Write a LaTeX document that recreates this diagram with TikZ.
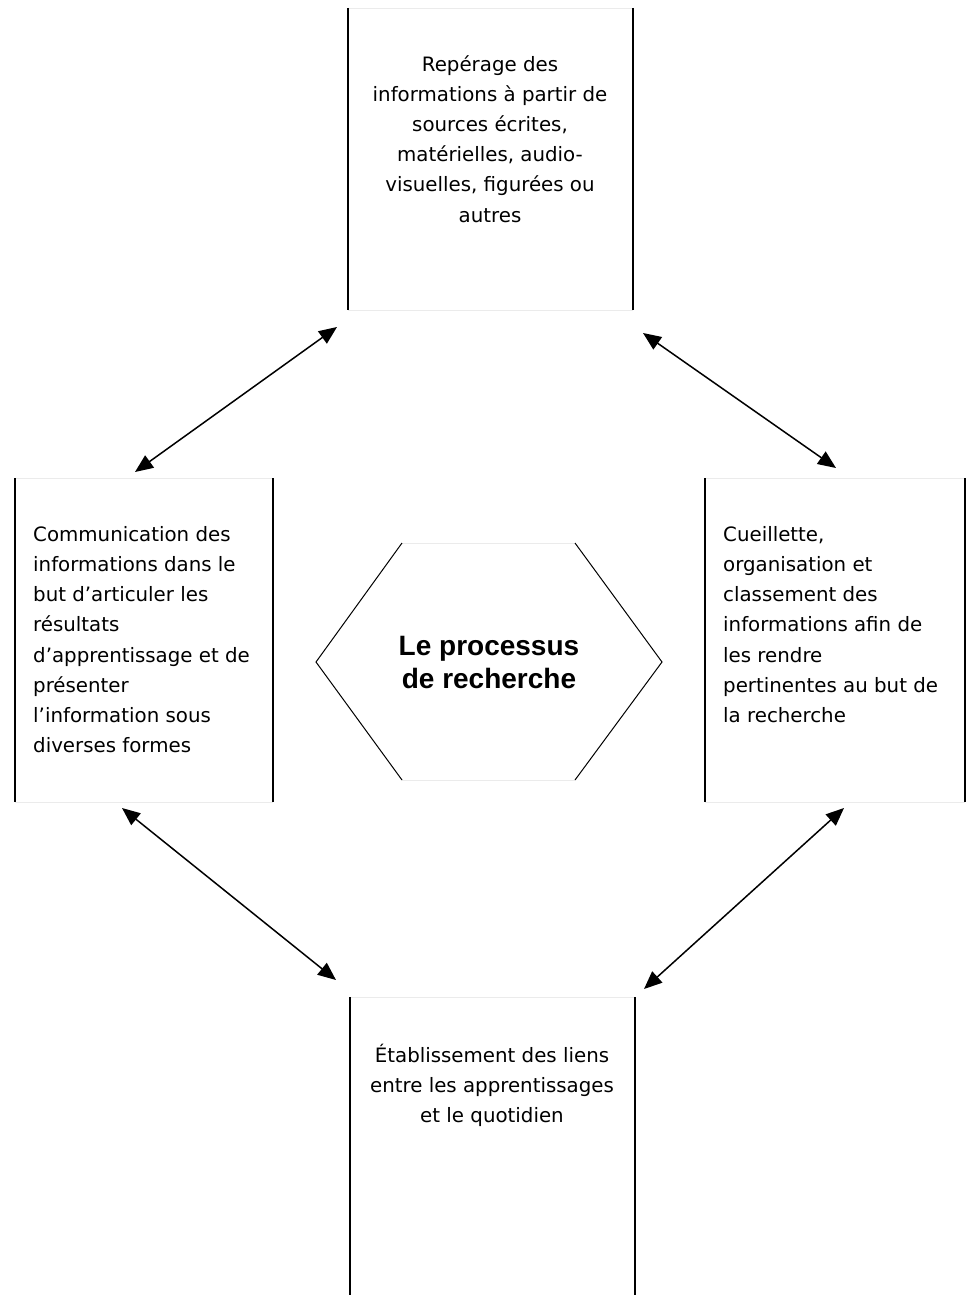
\documentclass[tikz,border=0pt]{standalone}
\usepackage{fontspec}
\setmainfont{DejaVu Sans}
\newfontfamily\titlefont{Liberation Sans}
\usetikzlibrary{arrows.meta}
\begin{document}
\begin{tikzpicture}[x=1pt,y=-1pt,
  boxtext/.style={font=\fontsize{19.8}{30.2}\selectfont, inner sep=0pt},
  side/.style={line width=2pt, black},
  faint/.style={line width=0.8pt, black!8},
  hexside/.style={line width=1pt, black},
  link/.style={line width=1.5pt, {Triangle[length=18pt,width=15pt]}-{Triangle[length=18pt,width=15pt]}}]
\useasboundingbox (0,0) rectangle (966,1295);
% boxes (frames as coordinates)
\coordinate (tA) at (348,8);   \coordinate (tB) at (633,310);
\coordinate (lA) at (15,478);  \coordinate (lB) at (273,802);
\coordinate (rA) at (705,478); \coordinate (rB) at (965,802);
\coordinate (bA) at (350,997); \coordinate (bB) at (635,1295);
\foreach \b in {t,l,r,b}{
  \draw[faint] (\b A) -- (\b A -| \b B);
  \draw[faint] (\b A |- \b B) -- (\b B);
  \draw[side] (\b A) -- (\b A |- \b B);
  \draw[side] (\b A -| \b B) -- (\b B);
}
% texts
\node[boxtext, align=center, anchor=north] (top) at (490,55)
  {Repérage des\\informations à partir de\\sources écrites,\\matérielles, audio-\\visuelles, figurées ou\\autres};
\node[boxtext, align=left, anchor=north west] (left) at (33,526)
  {Communication des\\informations dans le\\but d’articuler les\\résultats\\d’apprentissage et de\\présenter\\l’information sous\\diverses formes};
\node[boxtext, align=left, anchor=north west] (right) at (723,526)
  {Cueillette,\\organisation et\\classement des\\informations afin de\\les rendre\\pertinentes au but de\\la recherche};
\node[boxtext, align=center, anchor=north] (bottom) at (492,1044)
  {Établissement des liens\\entre les apprentissages\\et le quotidien};
% hexagon
\coordinate (h1) at (402,543); \coordinate (h2) at (575,543);
\coordinate (h3) at (662,662); \coordinate (h4) at (575,780);
\coordinate (h5) at (402,780); \coordinate (h6) at (316,662);
\draw[faint] (h1) -- (h2);
\draw[faint] (h4) -- (h5);
\draw[hexside] (h2) -- (h3) -- (h4);
\draw[hexside] (h5) -- (h6) -- (h1);
\node[font=\titlefont\bfseries\fontsize{28}{33}\selectfont, align=center, inner sep=0pt] (title) at (489,662)
  {Le processus\\de recherche};
% arrow ends
\coordinate (a1) at (337,327); \coordinate (a2) at (135,472);
\coordinate (b1) at (643,333); \coordinate (b2) at (836,468);
\coordinate (c1) at (122,808); \coordinate (c2) at (336,980);
\coordinate (d1) at (844,808); \coordinate (d2) at (644,989);
\draw[link] (a1) -- (a2);
\draw[link] (b1) -- (b2);
\draw[link] (c1) -- (c2);
\draw[link] (d1) -- (d2);
\end{tikzpicture}
\end{document}
